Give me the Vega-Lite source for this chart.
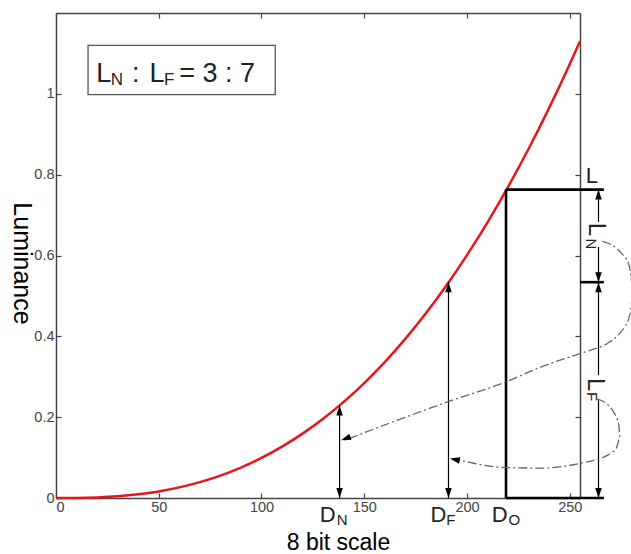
{
  "$schema": "https://vega.github.io/schema/vega-lite/v6.json",
  "width": 524,
  "height": 485,
  "autosize": "none",
  "padding": {"left": 56, "top": 13, "right": 51, "bottom": 56},
  "background": "white",
  "config": {
    "view": {"stroke": null},
    "font": "Liberation Sans",
    "axis": {
      "grid": false,
      "domainColor": "#444",
      "domainWidth": 1.5,
      "tickColor": "#444",
      "tickWidth": 1.2,
      "labelColor": "#444",
      "labelFont": "Liberation Sans",
      "labelFontSize": 14.5,
      "titleFont": "Liberation Sans",
      "titleFontWeight": "normal",
      "titleFontSize": 23,
      "titleColor": "black"
    }
  },
  "datasets": {
    "curve": [
      {"x": 0, "lum": 0}, {"x": 10, "lum": 0.00025}, {"x": 20, "lum": 0.0015}, {"x": 30, "lum": 0.0043},
      {"x": 40, "lum": 0.0091}, {"x": 50, "lum": 0.0163}, {"x": 60, "lum": 0.0263}, {"x": 70, "lum": 0.0392},
      {"x": 80, "lum": 0.0555}, {"x": 90, "lum": 0.0753}, {"x": 100, "lum": 0.0991}, {"x": 110, "lum": 0.127},
      {"x": 120, "lum": 0.1592}, {"x": 130, "lum": 0.1961}, {"x": 140, "lum": 0.2377}, {"x": 150, "lum": 0.2844},
      {"x": 160, "lum": 0.3364}, {"x": 170, "lum": 0.3938}, {"x": 180, "lum": 0.4569}, {"x": 190, "lum": 0.5258},
      {"x": 200, "lum": 0.6009}, {"x": 210, "lum": 0.682}, {"x": 220, "lum": 0.7698}, {"x": 230, "lum": 0.8641},
      {"x": 240, "lum": 0.9652}, {"x": 250, "lum": 1.0733}, {"x": 255, "lum": 1.13}
    ],
    "rules": [
      {"role": "thin", "x": 138, "x2": 138, "y": 0, "y2": 0.229},
      {"role": "thin", "x": 191, "x2": 191, "y": 0, "y2": 0.534},
      {"role": "thin", "x": 264, "x2": 264, "y": 0.763, "y2": 0.683},
      {"role": "thin", "x": 264, "x2": 264, "y": 0.621, "y2": 0.534},
      {"role": "thin", "x": 264, "x2": 264, "y": 0.534, "y2": 0.304},
      {"role": "thin", "x": 264, "x2": 264, "y": 0.242, "y2": 0},
      {"role": "thick", "x": 219, "x2": 219, "y": 0, "y2": 0.763},
      {"role": "thick", "x": 219, "x2": 266.6, "y": 0.763, "y2": 0.763},
      {"role": "thick", "x": 255, "x2": 266.6, "y": 0.534, "y2": 0.534},
      {"role": "thick", "x": 219, "x2": 266.6, "y": 0, "y2": 0}
    ],
    "heads": [
      {"dir": "up", "x": 138, "y": 0.229}, {"dir": "down", "x": 138, "y": 0},
      {"dir": "up", "x": 191, "y": 0.534}, {"dir": "down", "x": 191, "y": 0},
      {"dir": "up", "x": 264, "y": 0.763}, {"dir": "down", "x": 264, "y": 0.534},
      {"dir": "up", "x": 264, "y": 0.534}, {"dir": "down", "x": 264, "y": 0},
      {"dir": "left1", "x": 138.7, "y": 0.143}, {"dir": "left2", "x": 191.7, "y": 0.098}
    ],
    "paths": [
      {"path": 1, "i": 0, "x": 265.9, "y": 0.635}, {"path": 1, "i": 1, "x": 274.9, "y": 0.607},
      {"path": 1, "i": 2, "x": 278.8, "y": 0.577}, {"path": 1, "i": 3, "x": 280.2, "y": 0.527},
      {"path": 1, "i": 4, "x": 280.2, "y": 0.49}, {"path": 1, "i": 5, "x": 278.8, "y": 0.445},
      {"path": 1, "i": 6, "x": 274.9, "y": 0.411}, {"path": 1, "i": 7, "x": 268.5, "y": 0.383},
      {"path": 1, "i": 8, "x": 260.2, "y": 0.366}, {"path": 1, "i": 9, "x": 255.4, "y": 0.358},
      {"path": 1, "i": 10, "x": 235.9, "y": 0.324}, {"path": 1, "i": 11, "x": 218.8, "y": 0.287},
      {"path": 1, "i": 12, "x": 190.1, "y": 0.237}, {"path": 1, "i": 13, "x": 140.5, "y": 0.143},
      {"path": 2, "i": 0, "x": 263.2, "y": 0.245}, {"path": 2, "i": 1, "x": 268.0, "y": 0.233},
      {"path": 2, "i": 2, "x": 271.4, "y": 0.212}, {"path": 2, "i": 3, "x": 273.9, "y": 0.18},
      {"path": 2, "i": 4, "x": 274.4, "y": 0.15}, {"path": 2, "i": 5, "x": 272.9, "y": 0.126},
      {"path": 2, "i": 6, "x": 268.5, "y": 0.106}, {"path": 2, "i": 7, "x": 263.6, "y": 0.096},
      {"path": 2, "i": 8, "x": 255.4, "y": 0.086}, {"path": 2, "i": 9, "x": 235.9, "y": 0.074},
      {"path": 2, "i": 10, "x": 216.4, "y": 0.076}, {"path": 2, "i": 11, "x": 203.2, "y": 0.086},
      {"path": 2, "i": 12, "x": 193.5, "y": 0.098}
    ],
    "box": [{"x": 15.6, "x2": 106.7, "y": 0.998, "y2": 1.12}],
    "labels": [
      {"kind": "boxL", "text": "L", "x": 19.6, "y": 1.03},
      {"kind": "boxSub", "text": "N", "x": 26.6, "y": 1.022},
      {"kind": "boxL", "text": ":", "x": 37.0, "y": 1.03},
      {"kind": "boxL", "text": "L", "x": 45.5, "y": 1.03},
      {"kind": "boxSub", "text": "F", "x": 52.5, "y": 1.022},
      {"kind": "boxL", "text": "= 3 : 7", "x": 60.0, "y": 1.03},
      {"kind": "D", "text": "D", "x": 128.4, "y": -0.06},
      {"kind": "Dsub", "text": "N", "x": 136.6, "y": -0.0665},
      {"kind": "D", "text": "D", "x": 182.2, "y": -0.06},
      {"kind": "Dsub", "text": "F", "x": 189.9, "y": -0.0665},
      {"kind": "D", "text": "D", "x": 212.0, "y": -0.06},
      {"kind": "Dsub", "text": "O", "x": 220.2, "y": -0.0665},
      {"kind": "D", "text": "L", "x": 257.8, "y": 0.78},
      {"kind": "vert", "text": "L", "x": 259.3, "y": 0.681},
      {"kind": "vertsub", "text": "N", "x": 258.0, "y": 0.642},
      {"kind": "vert", "text": "L", "x": 258.8, "y": 0.297},
      {"kind": "vertsub", "text": "F", "x": 258.3, "y": 0.262}
    ]
  },
  "resolve": {"axis": {"x": "independent", "y": "independent"}},
  "layer": [
    {
      "data": {"name": "box"},
      "mark": {"type": "rect", "fill": "white", "stroke": "#555", "strokeWidth": 1.3},
      "encoding": {
        "x": {"field": "x", "type": "quantitative", "scale": {"domain": [0, 255], "nice": false, "zero": false}, "axis": null},
        "x2": {"field": "x2"},
        "y": {"field": "y", "type": "quantitative", "scale": {"domain": [0, 1.2], "nice": false}, "axis": null},
        "y2": {"field": "y2"}
      }
    },
    {
      "data": {"name": "curve"},
      "mark": {"type": "line", "opacity": 0},
      "encoding": {
        "x": {"field": "x", "type": "quantitative", "scale": {"domain": [0, 255], "nice": false, "zero": false},
          "axis": {"orient": "top", "values": [0, 50, 100, 150, 200, 250], "labels": false, "tickSize": -5, "title": null}},
        "y": {"field": "lum", "type": "quantitative", "scale": {"domain": [0, 1.2], "nice": false},
          "axis": {"orient": "right", "values": [0, 0.2, 0.4, 0.6, 0.8, 1], "labels": false, "tickSize": -5, "title": null}}
      }
    },
    {
      "data": {"name": "curve"},
      "mark": {"type": "line", "color": "#e8141b", "strokeWidth": 2.5, "interpolate": "monotone"},
      "encoding": {
        "x": {"field": "x", "type": "quantitative", "scale": {"domain": [0, 255], "nice": false, "zero": false},
          "axis": {"orient": "bottom", "values": [0, 50, 100, 150, 200, 250], "tickSize": -5, "labelPadding": 7,
            "title": "8 bit scale", "titleX": 282, "titleY": 51, "titleBaseline": "alphabetic", "titleAlign": "center"}},
        "y": {"field": "lum", "type": "quantitative", "scale": {"domain": [0, 1.2], "nice": false},
          "axis": {"orient": "left", "values": [0, 0.2, 0.4, 0.6, 0.8, 1], "format": "~g", "tickSize": -5, "labelPadding": 7,
            "title": "Luminance", "titleAngle": 90, "titleFontSize": 25, "titleX": -43, "titleY": 250, "titleAlign": "center", "titleBaseline": "alphabetic"}}
      }
    },
    {
      "data": {"name": "rules"},
      "transform": [{"filter": "datum.role === 'thin'"}],
      "mark": {"type": "rule", "color": "black", "strokeWidth": 1.2},
      "encoding": {
        "x": {"field": "x", "type": "quantitative", "scale": {"domain": [0, 255], "nice": false, "zero": false}, "axis": null},
        "x2": {"field": "x2"},
        "y": {"field": "y", "type": "quantitative", "scale": {"domain": [0, 1.2], "nice": false}, "axis": null},
        "y2": {"field": "y2"}
      }
    },
    {
      "data": {"name": "rules"},
      "transform": [{"filter": "datum.role === 'thick'"}],
      "mark": {"type": "rule", "color": "black", "strokeWidth": 2.6},
      "encoding": {
        "x": {"field": "x", "type": "quantitative", "scale": {"domain": [0, 255], "nice": false, "zero": false}, "axis": null},
        "x2": {"field": "x2"},
        "y": {"field": "y", "type": "quantitative", "scale": {"domain": [0, 1.2], "nice": false}, "axis": null},
        "y2": {"field": "y2"}
      }
    },
    {
      "data": {"name": "paths"},
      "mark": {"type": "line", "color": "#666", "strokeWidth": 1.3, "strokeDash": [9, 3, 2, 3], "interpolate": "monotone"},
      "encoding": {
        "x": {"field": "x", "type": "quantitative", "scale": {"domain": [0, 255], "nice": false, "zero": false}, "axis": null},
        "y": {"field": "y", "type": "quantitative", "scale": {"domain": [0, 1.2], "nice": false}, "axis": null},
        "detail": {"field": "path", "type": "nominal"},
        "order": {"field": "i", "type": "quantitative"}
      }
    },
    {
      "data": {"name": "heads"},
      "transform": [{"filter": "datum.dir === 'up'"}],
      "mark": {"type": "point", "filled": true, "color": "black", "opacity": 1, "size": 100, "shape": "M0,0L0.65,2L-0.65,2Z"},
      "encoding": {
        "x": {"field": "x", "type": "quantitative", "scale": {"domain": [0, 255], "nice": false, "zero": false}, "axis": null},
        "y": {"field": "y", "type": "quantitative", "scale": {"domain": [0, 1.2], "nice": false}, "axis": null}
      }
    },
    {
      "data": {"name": "heads"},
      "transform": [{"filter": "datum.dir === 'down'"}],
      "mark": {"type": "point", "filled": true, "color": "black", "opacity": 1, "size": 100, "shape": "M0,0L0.65,-2L-0.65,-2Z"},
      "encoding": {
        "x": {"field": "x", "type": "quantitative", "scale": {"domain": [0, 255], "nice": false, "zero": false}, "axis": null},
        "y": {"field": "y", "type": "quantitative", "scale": {"domain": [0, 1.2], "nice": false}, "axis": null}
      }
    },
    {
      "data": {"name": "heads"},
      "transform": [{"filter": "datum.dir === 'left1'"}],
      "mark": {"type": "point", "filled": true, "color": "black", "opacity": 1, "size": 100, "angle": -20, "shape": "M0,0L2,-0.65L2,0.65Z"},
      "encoding": {
        "x": {"field": "x", "type": "quantitative", "scale": {"domain": [0, 255], "nice": false, "zero": false}, "axis": null},
        "y": {"field": "y", "type": "quantitative", "scale": {"domain": [0, 1.2], "nice": false}, "axis": null}
      }
    },
    {
      "data": {"name": "heads"},
      "transform": [{"filter": "datum.dir === 'left2'"}],
      "mark": {"type": "point", "filled": true, "color": "black", "opacity": 1, "size": 100, "angle": 12, "shape": "M0,0L2,-0.65L2,0.65Z"},
      "encoding": {
        "x": {"field": "x", "type": "quantitative", "scale": {"domain": [0, 255], "nice": false, "zero": false}, "axis": null},
        "y": {"field": "y", "type": "quantitative", "scale": {"domain": [0, 1.2], "nice": false}, "axis": null}
      }
    },
    {
      "data": {"name": "labels"},
      "transform": [{"filter": "datum.kind === 'boxL'"}],
      "mark": {"type": "text", "font": "Liberation Sans", "fontSize": 27, "align": "left", "baseline": "alphabetic", "color": "#222"},
      "encoding": {
        "x": {"field": "x", "type": "quantitative", "scale": {"domain": [0, 255], "nice": false, "zero": false}, "axis": null},
        "y": {"field": "y", "type": "quantitative", "scale": {"domain": [0, 1.2], "nice": false}, "axis": null},
        "text": {"field": "text"}
      }
    },
    {
      "data": {"name": "labels"},
      "transform": [{"filter": "datum.kind === 'boxSub'"}],
      "mark": {"type": "text", "font": "Liberation Sans", "fontSize": 17, "align": "left", "baseline": "alphabetic", "color": "#222"},
      "encoding": {
        "x": {"field": "x", "type": "quantitative", "scale": {"domain": [0, 255], "nice": false, "zero": false}, "axis": null},
        "y": {"field": "y", "type": "quantitative", "scale": {"domain": [0, 1.2], "nice": false}, "axis": null},
        "text": {"field": "text"}
      }
    },
    {
      "data": {"name": "labels"},
      "transform": [{"filter": "datum.kind === 'D'"}],
      "mark": {"type": "text", "font": "Liberation Sans", "fontSize": 22, "align": "left", "baseline": "alphabetic", "color": "#222"},
      "encoding": {
        "x": {"field": "x", "type": "quantitative", "scale": {"domain": [0, 255], "nice": false, "zero": false}, "axis": null},
        "y": {"field": "y", "type": "quantitative", "scale": {"domain": [0, 1.2], "nice": false}, "axis": null},
        "text": {"field": "text"}
      }
    },
    {
      "data": {"name": "labels"},
      "transform": [{"filter": "datum.kind === 'Dsub'"}],
      "mark": {"type": "text", "font": "Liberation Sans", "fontSize": 15, "align": "left", "baseline": "alphabetic", "color": "#222"},
      "encoding": {
        "x": {"field": "x", "type": "quantitative", "scale": {"domain": [0, 255], "nice": false, "zero": false}, "axis": null},
        "y": {"field": "y", "type": "quantitative", "scale": {"domain": [0, 1.2], "nice": false}, "axis": null},
        "text": {"field": "text"}
      }
    },
    {
      "data": {"name": "labels"},
      "transform": [{"filter": "datum.kind === 'vert'"}],
      "mark": {"type": "text", "font": "Liberation Sans", "fontSize": 24, "angle": 90, "align": "left", "baseline": "alphabetic", "color": "#222"},
      "encoding": {
        "x": {"field": "x", "type": "quantitative", "scale": {"domain": [0, 255], "nice": false, "zero": false}, "axis": null},
        "y": {"field": "y", "type": "quantitative", "scale": {"domain": [0, 1.2], "nice": false}, "axis": null},
        "text": {"field": "text"}
      }
    },
    {
      "data": {"name": "labels"},
      "transform": [{"filter": "datum.kind === 'vertsub'"}],
      "mark": {"type": "text", "font": "Liberation Sans", "fontSize": 15, "angle": 90, "align": "left", "baseline": "alphabetic", "color": "#222"},
      "encoding": {
        "x": {"field": "x", "type": "quantitative", "scale": {"domain": [0, 255], "nice": false, "zero": false}, "axis": null},
        "y": {"field": "y", "type": "quantitative", "scale": {"domain": [0, 1.2], "nice": false}, "axis": null},
        "text": {"field": "text"}
      }
    }
  ]
}
